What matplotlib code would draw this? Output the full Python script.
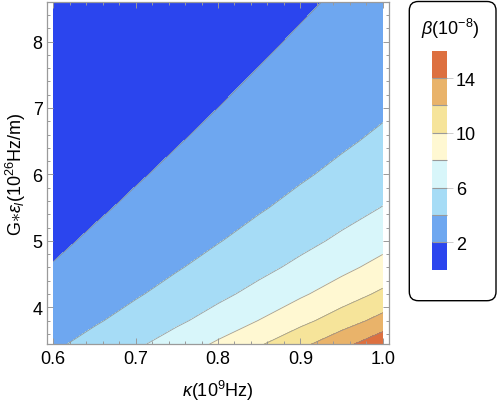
import matplotlib
matplotlib.use("Agg")
import matplotlib.pyplot as plt
from matplotlib.patches import FancyBboxPatch
from matplotlib.ticker import MultipleLocator
import numpy as np

plt.rcParams['font.family'] = ['Liberation Sans', 'DejaVu Sans']
plt.rcParams['mathtext.fontset'] = 'custom'
plt.rcParams['mathtext.rm'] = 'Liberation Sans'
plt.rcParams['mathtext.it'] = 'Liberation Sans:italic'
plt.rcParams['mathtext.bf'] = 'Liberation Sans:bold'

# kappa (10^9 Hz)
kappa = [0.60, 0.65, 0.70, 0.75, 0.80, 0.85, 0.90, 0.95, 1.00]
# G*eps_l (10^26 Hz/m)
geps = [3.4, 3.8, 4.2, 4.6, 5.0, 5.5, 6.0, 6.5, 7.0, 7.5, 8.0, 8.58]
# beta (10^-8), rows follow geps, columns follow kappa
beta = [
    [3.788, 4.738, 5.831, 7.075, 8.476, 10.042, 11.786, 13.713, 15.831],
    [3.032, 3.793, 4.667, 5.663, 6.785, 8.039, 9.435, 10.977, 12.673],
    [2.482, 3.105, 3.821, 4.636, 5.555, 6.581, 7.723, 8.986, 10.374],
    [2.070, 2.588, 3.185, 3.865, 4.631, 5.486, 6.439, 7.491, 8.649],
    [1.752, 2.191, 2.696, 3.271, 3.919, 4.643, 5.450, 6.340, 7.320],
    [1.448, 1.811, 2.228, 2.704, 3.239, 3.838, 4.504, 5.240, 6.050],
    [1.216, 1.521, 1.872, 2.272, 2.722, 3.225, 3.785, 4.403, 5.083],
    [1.037, 1.296, 1.595, 1.936, 2.319, 2.748, 3.225, 3.752, 4.332],
    [0.894, 1.118, 1.376, 1.669, 2.000, 2.369, 2.781, 3.235, 3.735],
    [0.779, 0.974, 1.198, 1.454, 1.742, 2.064, 2.422, 2.818, 3.254],
    [0.684, 0.856, 1.053, 1.278, 1.531, 1.814, 2.129, 2.477, 2.859],
    [0.595, 0.744, 0.916, 1.111, 1.331, 1.577, 1.851, 2.153, 2.486],
]
levels = [0, 2, 4, 6, 8, 10, 12, 14, 16]
cbar_ticks = [2, 6, 10, 14]
colors = ['#2b45ee', '#6ea7f0', '#a6dcf6', '#d8f6fa',
          '#fff8d2', '#f6e49a', '#e9b36a', '#dd7040']

W, H = 498, 406
fig = plt.figure(figsize=(W / 100, H / 100), dpi=100)
ax = fig.add_axes([46.7 / W, 1 - 345 / H, (389.3 - 46.7) / W, (345 - 2.7) / H])

K, G = np.meshgrid(kappa, geps)
Z = np.array(beta)
cf = ax.contourf(K, G, Z, levels=levels, colors=colors)
ax.contour(K, G, Z, levels=levels[1:-1], colors='#8a8a8a', linewidths=0.6, alpha=0.8)

ax.set_xlim(0.592, 1.008)
ax.set_ylim(3.447, 8.60)
ax.xaxis.set_minor_locator(MultipleLocator(0.02))
ax.yaxis.set_minor_locator(MultipleLocator(0.2))
ax.set_xticks([0.6, 0.7, 0.8, 0.9, 1.0])
ax.set_xticklabels(['0.6', '0.7', '0.8', '0.9', '1.0'])
ax.set_yticks([4, 5, 6, 7, 8])

frame_col = '#9a9a9a'
for s in ax.spines.values():
    s.set_color(frame_col)
    s.set_linewidth(0.9)
ax.tick_params(which='both', direction='in', top=True, right=True, color=frame_col,
               labelsize=13, labelcolor='black', width=0.7)
ax.tick_params(which='major', length=4.5, pad=4)
ax.tick_params(which='minor', length=2.5)
ax.tick_params(axis='y', which='major', pad=3)

ax.set_xlabel(r'$\kappa$(10$^{9}$Hz)', fontsize=13, labelpad=8)
ax.set_ylabel(r'G$\ast\varepsilon_l$(10$^{26}$Hz/m)', fontsize=13, labelpad=3)

# legend box
box = FancyBboxPatch((409.3 / 100, (H - 301.7) / 100), (496 - 409.3) / 100, (301.7 - 2.5) / 100,
                     boxstyle='round,pad=0,rounding_size=0.09',
                     transform=fig.dpi_scale_trans, facecolor='none', edgecolor='black',
                     linewidth=1.0, zorder=5)
fig.patches.append(box)

cax = fig.add_axes([432.3 / W, 1 - 270.7 / H, 15 / W, (270.7 - 51.7) / H])
cb = fig.colorbar(cf, cax=cax, ticks=cbar_ticks, drawedges=True)
cb.outline.set_visible(False)
cb.dividers.set_color('#9a9a9a')
cb.dividers.set_linewidth(0.8)
cax.tick_params(length=4, width=0.7, color='#cccccc', labelsize=13, pad=2)
cax.set_yticklabels([str(t) for t in cbar_ticks])

fig.text(450 / W, 1 - 29 / H, r'$\beta$(10$^{-8}$)', fontsize=13, ha='center', va='center')

fig.savefig('out.png', dpi=100)
